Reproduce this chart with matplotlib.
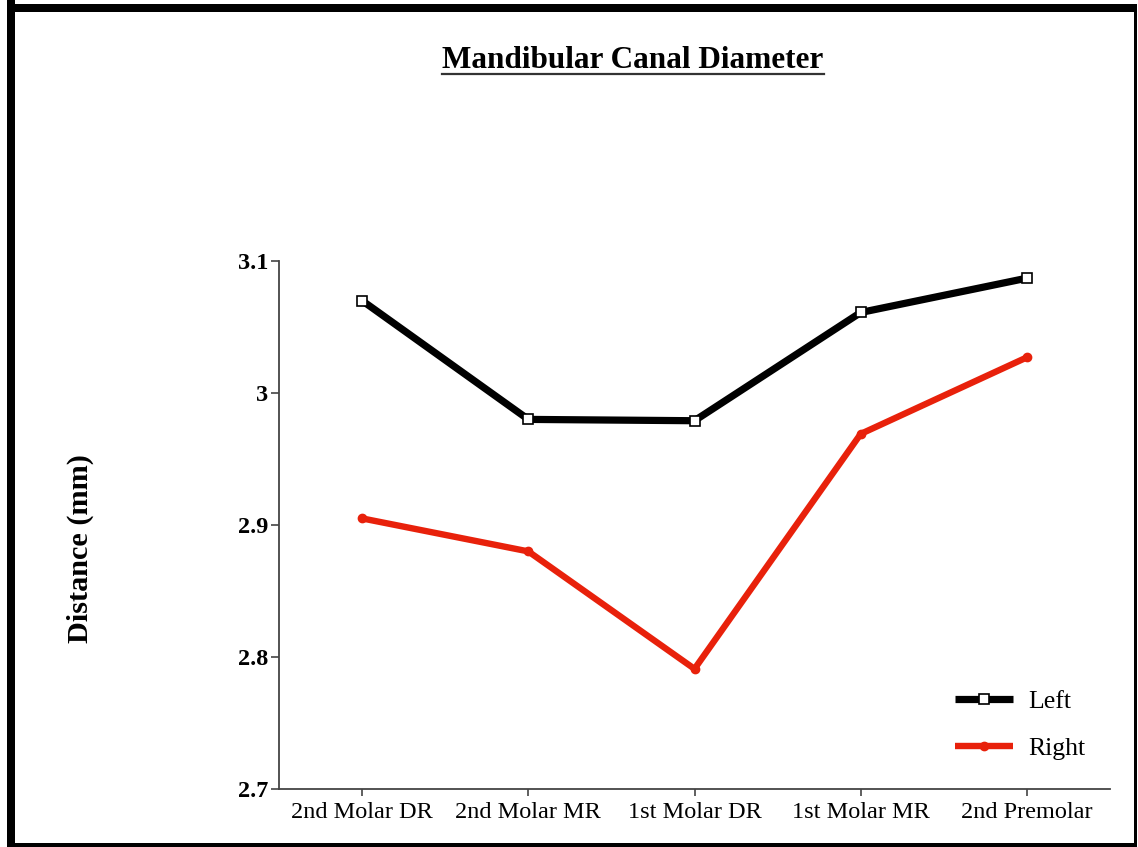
import matplotlib
matplotlib.use("Agg")
import matplotlib.pyplot as plt
from matplotlib.patches import Rectangle
from matplotlib.lines import Line2D

categories = ["2nd Molar DR", "2nd Molar MR", "1st Molar DR", "1st Molar MR", "2nd Premolar"]
left_vals = [3.070, 2.980, 2.979, 3.061, 3.087]
right_vals = [2.905, 2.880, 2.791, 2.969, 3.027]
yticks = [2.7, 2.8, 2.9, 3.0, 3.1]
ytick_labels = ["2.7", "2.8", "2.9", "3", "3.1"]

plt.rcParams['font.family'] = ['Liberation Serif', 'DejaVu Serif']

W, H = 1138, 847
fig = plt.figure(figsize=(W / 100, H / 100), dpi=100)

def px(x0, y0, x1, y1):
    return [x0 / W, 1 - y1 / H, (x1 - x0) / W, (y1 - y0) / H]

ax = fig.add_axes(px(279, 261, 1110, 789))
x = list(range(len(categories)))
ax.plot(x, left_vals, color='black', lw=5.2, marker='s', ms=7,
        mfc='white', mec='black', mew=1.2, label='Left', solid_capstyle='butt')
ax.plot(x, right_vals, color='#e8210b', lw=4.6, marker='o', ms=6,
        mfc='#e8210b', mec='#e8210b', label='Right', solid_capstyle='butt')

ax.set_xlim(-0.5, 4.5)
ax.set_ylim(2.7, 3.1)
ax.set_xticks(x)
ax.set_xticklabels(categories, fontsize=17.5)
ax.set_yticks(yticks)
ax.set_yticklabels(ytick_labels, fontsize=17.5, fontweight='bold')
for s in ['top', 'right']:
    ax.spines[s].set_visible(False)
for s in ['left', 'bottom']:
    ax.spines[s].set_color('#444444')
    ax.spines[s].set_linewidth(1.3)
ax.tick_params(axis='y', direction='out', length=6, width=1.2, color='#444444', pad=2)
ax.tick_params(axis='x', direction='out', length=5, width=1.2, color='#444444', pad=4)

leg = ax.legend(loc='upper left', bbox_to_anchor=(955 / W, 1 - 690 / H),
                bbox_transform=fig.transFigure, frameon=False, borderpad=0,
                borderaxespad=0, fontsize=18.5, handlelength=2.25,
                labelspacing=0.95, handletextpad=0.6)

fig.text(80 / W, 1 - 549 / H, "Distance (mm)", rotation=90, fontsize=21.8,
         fontweight='bold', ha='center', va='center')

t = fig.text(633 / W, 1 - 60 / H, "Mandibular Canal Diameter", fontsize=22.5,
             fontweight='bold', ha='center', va='center')
fig.canvas.draw()
bb = t.get_window_extent()
uy = 1 - 74 / H
fig.add_artist(Line2D([bb.x0 / W, bb.x1 / W], [uy, uy], color='#333333', lw=1.6,
                      transform=fig.transFigure))

# frame border
fig.add_artist(Rectangle((7 / W, 1 - 12 / H), (1137 - 7) / W, 8 / H, transform=fig.transFigure,
                         color='black', lw=0))
fig.add_artist(Rectangle((7 / W, 1 - 847 / H), 8 / W, 847 / H, transform=fig.transFigure,
                         color='black', lw=0))
fig.add_artist(Rectangle((1134 / W, 1 - 847 / H), 3 / W, 843 / H, transform=fig.transFigure,
                         color='black', lw=0))
fig.add_artist(Rectangle((7 / W, 1 - 847 / H), 1130 / W, 4 / H, transform=fig.transFigure,
                         color='black', lw=0))

fig.savefig("out.png", dpi=100)
